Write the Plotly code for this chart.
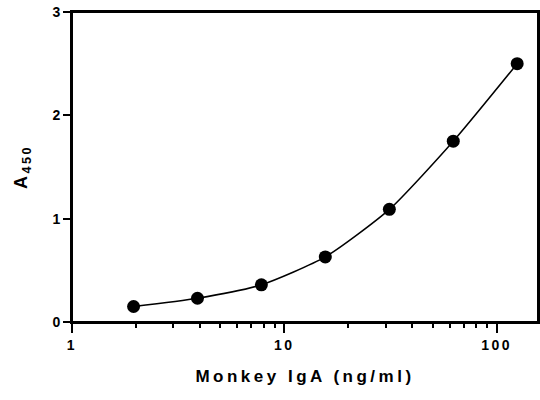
import plotly.graph_objects as go

conc = [1.95, 3.9, 7.8, 15.6, 31.25, 62.5, 125]
a450 = [0.15, 0.23, 0.36, 0.63, 1.09, 1.75, 2.50]
x_ticks = [1, 10, 100]
x_tick_labels = ["1", "10", "100"]
x_minor_ticks = [2, 3, 4, 5, 6, 7, 8, 9, 20, 30, 40, 50, 60, 70, 80, 90]
y_ticks = [0, 1, 2, 3]

XRANGE = [0, 2.195]

fig = go.Figure()
fig.add_trace(go.Scatter(
    x=conc, y=a450, mode="lines+markers",
    line=dict(color="black", width=1.5, shape="spline", smoothing=0.6),
    marker=dict(color="black", size=13),
    showlegend=False,
))
fig.add_trace(go.Scatter(x=[], y=[], xaxis="x2", yaxis="y", showlegend=False))

FAM = "Liberation Sans, Arial, sans-serif"
font_bold = dict(family=FAM, size=14, color="black", weight="bold")

fig.update_layout(
    width=540, height=400,
    margin=dict(l=72, r=2, t=12, b=78, autoexpand=False),
    plot_bgcolor="white", paper_bgcolor="white",
    xaxis=dict(
        type="log", range=XRANGE, automargin=False,
        tickvals=x_ticks, ticktext=x_tick_labels,
        ticks="outside", ticklen=9, tickwidth=2, tickcolor="black",
        showline=True, linewidth=2, linecolor="black", mirror=True,
        showgrid=False, zeroline=False,
        tickfont=font_bold,
        title=dict(text="Monkey IgA (ng/ml)", font=dict(family=FAM, size=17, color="black", weight="bold"),
                   standoff=18),
    ),
    xaxis2=dict(
        type="log", range=XRANGE, overlaying="x", anchor="y", side="bottom",
        tickvals=x_minor_ticks, showticklabels=False,
        ticks="outside", ticklen=5, tickwidth=2, tickcolor="black",
        showline=False, showgrid=False, zeroline=False, automargin=False,
    ),
    yaxis=dict(
        range=[0, 3], tickvals=y_ticks, automargin=False,
        ticks="outside", ticklen=7, tickwidth=2, tickcolor="black",
        showline=True, linewidth=2, linecolor="black", mirror=True,
        showgrid=False, zeroline=False,
        tickfont=font_bold,
        title=dict(text="A<sub>450</sub>", font=dict(family=FAM, size=18, color="black", weight="bold"),
                   standoff=20),
    ),
    shapes=[dict(type="rect", xref="paper", yref="paper", x0=0, x1=1, y0=0, y1=1,
                 line=dict(color="black", width=2), layer="above")],
)

post = """
document.body.style.margin = '0';
function spaceText() {
  document.querySelectorAll('g.xtick text').forEach(function(e){
    e.style.letterSpacing = '2.5px'; e.setAttribute('letter-spacing', '2.5px'); });
  document.querySelectorAll('.g-xtitle text').forEach(function(e){ e.style.letterSpacing = '3.5px'; });
  document.querySelectorAll('.g-ytitle text').forEach(function(e){ e.style.letterSpacing = '2.5px'; });
}
spaceText();
var gd = document.getElementById('{plot_id}');
if (gd && gd.on) { gd.on('plotly_afterplot', spaceText); }
setTimeout(spaceText, 0);
setTimeout(spaceText, 200);
"""

fig.write_html("out.html", post_script=post, config={"displayModeBar": False})
